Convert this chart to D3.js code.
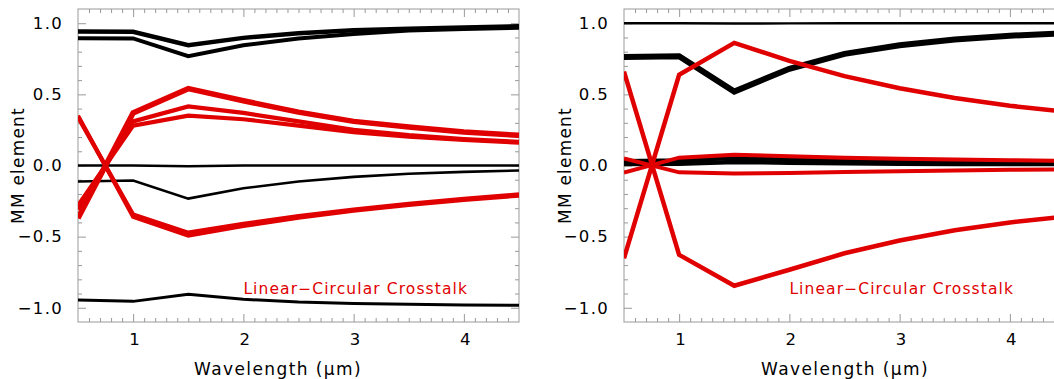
<!DOCTYPE html>
<html>
<head>
<meta charset="utf-8">
<script src="https://cdn.jsdelivr.net/npm/d3@7"></script>
<style>
  html, body { margin: 0; padding: 0; background: #fff; }
  svg { display: block; font-family: "DejaVu Sans", sans-serif; }
</style>
</head>
<body>
<svg id="chart" width="1054" height="379"></svg>
<script>
// ---------- data ----------
const wavelength = [0.5, 1.0, 1.5, 2.0, 2.5, 3.0, 3.5, 4.0, 4.5];

// left panel
const leftBlack1 = [0.942, 0.940, 0.845, 0.897, 0.930, 0.950, 0.962, 0.970, 0.978];
const leftBlack2 = [0.895, 0.893, 0.768, 0.845, 0.893, 0.925, 0.948, 0.960, 0.968];
const leftBlack3 = [0.0, 0.0, -0.005, 0.0, 0.0, 0.0, 0.0, 0.0, 0.0];
const leftBlack4 = [-0.112, -0.105, -0.233, -0.160, -0.112, -0.080, -0.058, -0.045, -0.035];
const leftBlack5 = [-0.945, -0.955, -0.905, -0.940, -0.960, -0.970, -0.975, -0.980, -0.983];
const leftRedA = [-0.37, 0.37, 0.54, 0.455, 0.375, 0.31, 0.27, 0.235, 0.212];
const leftRedB = [-0.31, 0.31, 0.415, 0.37, 0.31, 0.25, 0.213, 0.186, 0.166];
const leftRedC = [-0.28, 0.28, 0.35, 0.325, 0.28, 0.235, 0.203, 0.18, 0.16];
const leftRedD = [0.34, -0.345, -0.472, -0.41, -0.355, -0.31, -0.27, -0.235, -0.203];
const leftRedE = [0.35, -0.36, -0.492, -0.425, -0.366, -0.318, -0.277, -0.241, -0.212];

// right panel
const rightBlack1 = [1.0, 1.0, 0.998, 0.999, 1.0, 1.0, 1.0, 1.0, 1.0];
const rightBlack2 = [0.762, 0.768, 0.52, 0.68, 0.785, 0.845, 0.885, 0.912, 0.93];
const rightBlack3 = [0.01, 0.012, 0.025, 0.02, 0.015, 0.012, 0.01, 0.01, 0.01];
const rightBlack4 = [0.03, 0.035, 0.055, 0.045, 0.038, 0.032, 0.03, 0.028, 0.026];
const rightRed1 = [-0.652, 0.638, 0.862, 0.735, 0.628, 0.543, 0.475, 0.42, 0.378];
const rightRed2 = [0.66, -0.628, -0.845, -0.733, -0.617, -0.527, -0.455, -0.4, -0.36];
const rightRed3 = [-0.05, 0.055, 0.075, 0.065, 0.055, 0.048, 0.042, 0.037, 0.033];
const rightRed4 = [0.05, -0.048, -0.057, -0.052, -0.046, -0.04, -0.035, -0.03, -0.027];

const xTickValues = [1, 2, 3, 4];
const yTickValues = [-1.0, -0.5, 0.0, 0.5, 1.0];
const xLabel = "Wavelength (\u03bcm)";
const yLabel = "MM element";
const annotation = "Linear\u2212Circular Crosstalk";

// ---------- layout ----------
const RED = "#e00000";
const FRAME = "#999";
const plotW = 441, plotH = 313;
const panels = [
  { x0: 78, y0: 9, ylabX: 18, xlabX: 278,
    black: [[leftBlack1, 4.5], [leftBlack2, 4], [leftBlack3, 2.6], [leftBlack4, 2.6], [leftBlack5, 3]],
    red: [[leftRedA, 5.5], [leftRedB, 4.2], [leftRedC, 4.2], [leftRedD, 4.2], [leftRedE, 4.2]] },
  { x0: 624, y0: 9, ylabX: 565, xlabX: 845,
    black: [[rightBlack1, 2.4], [rightBlack2, 6], [rightBlack3, 4.5], [rightBlack4, 4.5]],
    red: [[rightRed1, 4.5], [rightRed2, 4.5], [rightRed3, 4], [rightRed4, 4]] }
];

const svg = d3.select("#chart");
const x = d3.scaleLinear().domain([0.5, 4.5]).range([0, plotW]);
const y = d3.scaleLinear().domain([-1.1, 1.1]).range([plotH, 0]);
const fmt = v => (v < 0 ? "\u2212" : "") + Math.abs(v).toFixed(1);

const xMinor = d3.range(6, 45).map(d => d / 10).filter(d => Math.abs(d - Math.round(d)) > 1e-6);
const yMinor = d3.range(-10, 11).map(d => d / 10).filter(d => Math.abs(d * 2 - Math.round(d * 2)) > 1e-6);

panels.forEach((p, i) => {
  const defsId = "clip" + i;
  svg.append("clipPath").attr("id", defsId)
    .append("rect").attr("width", plotW).attr("height", plotH);

  const g = svg.append("g").attr("transform", `translate(${p.x0},${p.y0})`);

  // frame
  g.append("rect").attr("width", plotW).attr("height", plotH)
    .attr("fill", "none").attr("stroke", FRAME).attr("stroke-width", 1);

  // axes with ticks on all four sides
  const addAxis = (axis, tr) => {
    const a = g.append("g").attr("transform", tr).call(axis);
    a.select(".domain").remove();
    a.selectAll("line").attr("stroke", FRAME);
    return a;
  };
  addAxis(d3.axisBottom(x).tickValues(xMinor).tickSize(-4).tickFormat(""), `translate(0,${plotH})`);
  addAxis(d3.axisTop(x).tickValues(xMinor).tickSize(-4).tickFormat(""), "translate(0,0)");
  addAxis(d3.axisLeft(y).tickValues(yMinor).tickSize(-4).tickFormat(""), "translate(0,0)");
  addAxis(d3.axisRight(y).tickValues(yMinor).tickSize(-4).tickFormat(""), `translate(${plotW},0)`);
  addAxis(d3.axisTop(x).tickValues(xTickValues).tickSize(-8).tickFormat(""), "translate(0,0)");
  addAxis(d3.axisRight(y).tickValues(yTickValues).tickSize(-8).tickFormat(""), `translate(${plotW},0)`);

  const xb = addAxis(d3.axisBottom(x).tickValues(xTickValues).tickSize(-8).tickPadding(20).tickFormat(d3.format("d")), `translate(0,${plotH})`);
  xb.selectAll("text").attr("fill", "#000").attr("font-size", "16.5px")
    .attr("font-family", "DejaVu Sans, sans-serif").attr("dy", "0.2em").attr("dx", "0.05em");
  const yl = addAxis(d3.axisLeft(y).tickValues(yTickValues).tickSize(-8).tickPadding(15).tickFormat(fmt), "translate(0,0)");
  yl.selectAll("text").attr("fill", "#000").attr("font-size", "16.5px")
    .attr("font-family", "DejaVu Sans, sans-serif").attr("letter-spacing", "1.3px");

  const line = d3.line().x((d, j) => x(wavelength[j])).y(d => y(d));
  const plot = g.append("g").attr("clip-path", `url(#${defsId})`);
  p.black.forEach(([vals, w]) => {
    plot.append("path").datum(vals).attr("d", line)
      .attr("fill", "none").attr("stroke", "#000").attr("stroke-width", w)
      .attr("stroke-linejoin", "miter");
  });
  p.red.forEach(([vals, w]) => {
    plot.append("path").datum(vals).attr("d", line)
      .attr("fill", "none").attr("stroke", RED).attr("stroke-width", w)
      .attr("stroke-linejoin", "miter");
  });

  // annotation at data coordinates
  g.append("text").attr("x", x(2.0)).attr("y", y(-0.905))
    .attr("fill", RED).attr("font-size", "15.5px").attr("letter-spacing", "1.1px")
    .text(annotation);

  // axis titles
  svg.append("text").attr("x", p.xlabX).attr("y", 375)
    .attr("text-anchor", "middle").attr("font-size", "17px").attr("letter-spacing", "1.4px")
    .text(xLabel);
  svg.append("text")
    .attr("transform", `translate(${p.ylabX + 6},${p.y0 + y(0)}) rotate(-90)`)
    .attr("text-anchor", "middle").attr("font-size", "17px").attr("letter-spacing", "1.2px")
    .text(yLabel);
});
</script>
</body>
</html>
